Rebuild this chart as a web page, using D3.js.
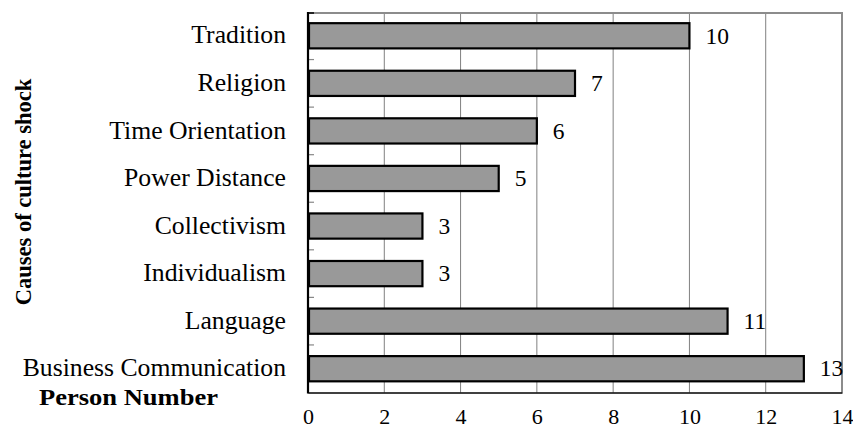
<!DOCTYPE html>
<html><head><meta charset="utf-8">
<script src="https://cdn.jsdelivr.net/npm/d3@7"></script>
<style>html,body{margin:0;padding:0;background:#fff;}svg{display:block;}</style>
</head><body>
<svg id="c" width="853" height="428"></svg>
<script>
const categories = ["Tradition","Religion","Time Orientation","Power Distance","Collectivism","Individualism","Language","Business Communication"];
const values = [10,7,6,5,3,3,11,13];
const xTicks = [0,2,4,6,8,10,12,14];
const yTitle = "Causes of culture shock";
const xTitle = "Person Number";

const svg = d3.select("#c");
const L = 308, R = 842, T = 12, B = 392.5;
const x = d3.scaleLinear().domain([0,14]).range([L,R]);
const y = d3.scaleBand().domain(categories).range([T,B]).paddingInner(0.47).paddingOuter(0.235);
const band = d3.scaleBand().domain(categories).range([T,B]);
const font = "'Liberation Serif','Times New Roman',serif";

// gridlines
svg.append("g").selectAll("line").data(xTicks.filter(d=>d>0&&d<14)).join("line")
  .attr("x1",d=>x(d)).attr("x2",d=>x(d)).attr("y1",T).attr("y2",B)
  .attr("stroke","#808080").attr("stroke-width",1);
// top & right border
svg.append("path").attr("d",`M${L},${T+1}H${R}V${B}`).attr("fill","none").attr("stroke","#8c8c8c").attr("stroke-width",2);

// bars
svg.append("g").selectAll("rect").data(categories).join("rect")
  .attr("x",x(0)+1).attr("y",d=>y(d))
  .attr("width",(d,i)=>x(values[i])-x(0)-1).attr("height",y.bandwidth())
  .attr("fill","#999999").attr("stroke","#000").attr("stroke-width",2.2);

// value labels
svg.append("g").selectAll("text").data(categories).join("text")
  .attr("x",(d,i)=>x(values[i])+16).attr("y",d=>y(d)+y.bandwidth()/2)
  .attr("dy","0.33em").attr("font-family",font).attr("font-size",23.5).attr("fill","#000")
  .text((d,i)=>values[i]);

// bottom axis
const xa = svg.append("g").attr("transform",`translate(0,${B})`)
  .call(d3.axisBottom(x).tickValues(xTicks).tickSize(0).tickPadding(0).tickFormat(d3.format("d")));
xa.select(".domain").attr("stroke","#000").attr("stroke-width",1.6);
xa.selectAll("text").attr("y",31.5).attr("dy",0).attr("font-family",font).attr("font-size",22).attr("fill","#000");

// left axis with inward ticks at band boundaries
const boundaries = categories.map(d=>band(d)).slice(1);
svg.append("g").selectAll("line").data(boundaries).join("line")
  .attr("x1",L).attr("x2",L+6).attr("y1",d=>d).attr("y2",d=>d)
  .attr("stroke","#888").attr("stroke-width",1.2);
svg.append("line").attr("x1",L).attr("x2",L+6).attr("y1",T+1).attr("y2",T+1).attr("stroke","#000").attr("stroke-width",1.5);
svg.append("line").attr("x1",L).attr("x2",L).attr("y1",T).attr("y2",B+1)
  .attr("stroke","#000").attr("stroke-width",2.2);

// category labels
svg.append("g").selectAll("text").data(categories).join("text")
  .attr("x",286).attr("y",d=>y(d)+y.bandwidth()/2)
  .attr("dy","0.3em").attr("text-anchor","end")
  .attr("font-family",font).attr("font-size",25.7).attr("fill","#000")
  .text(d=>d);

// titles
svg.append("text").attr("transform","translate(31,192) rotate(-90)")
  .attr("text-anchor","middle").attr("font-family",font).attr("font-weight","bold")
  .attr("font-size",22.5).attr("fill","#000").text(yTitle);
svg.append("text").attr("x",128.5).attr("y",405)
  .attr("text-anchor","middle").attr("font-family",font).attr("font-weight","bold")
  .attr("font-size",23).attr("textLength",179).attr("lengthAdjust","spacingAndGlyphs")
  .attr("fill","#000").text(xTitle);
</script>
</body></html>
